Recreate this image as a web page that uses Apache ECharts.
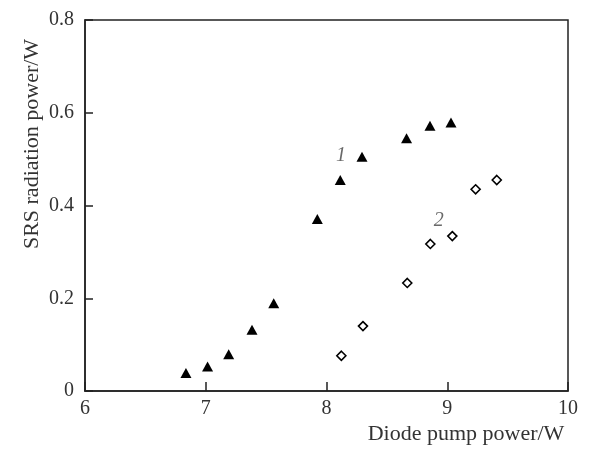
<!DOCTYPE html>
<html><head><meta charset="utf-8">
<script src="https://cdn.jsdelivr.net/npm/echarts@6/dist/echarts.min.js"></script>
<style>html,body{margin:0;padding:0;background:#fff}#c{width:591px;height:450px}</style>
</head><body><div id="c"></div>
<script>
const series1X = [6.836, 7.015, 7.19, 7.383, 7.563, 7.924, 8.114, 8.294, 8.663, 8.857, 9.031];
const series1Y = [0.039, 0.053, 0.079, 0.132, 0.189, 0.371, 0.455, 0.505, 0.545, 0.572, 0.579];
const series2X = [8.123, 8.302, 8.669, 8.86, 9.042, 9.235, 9.41];
const series2Y = [0.076, 0.140, 0.233, 0.317, 0.334, 0.435, 0.455];
const xTicks = [6, 7, 8, 9, 10];
const yTicks = [0, 0.2, 0.4, 0.6, 0.8];
const seriesLabels = [{text: '1', x: 8.12, y: 0.508}, {text: '2', x: 8.93, y: 0.368}];
const xTitle = 'Diode pump power/W';
const yTitle = 'SRS radiation power/W';

const font = '"Liberation Serif", "DejaVu Serif", serif';
const chart = echarts.init(document.getElementById('c'));
const fmtY = v => v === 0 ? '0' : v.toFixed(1);
chart.setOption({
  animation: false,
  grid: {left: 85, right: 23, top: 20, bottom: 59, show: true, borderColor: '#222', borderWidth: 1.5},
  xAxis: {
    type: 'value', min: 6, max: 10, interval: 1,
    axisLine: {show: true, lineStyle: {color: '#222', width: 1.5}},
    axisTick: {show: true, inside: true, length: 9, lineStyle: {color: '#222', width: 1.5}},
    splitLine: {show: false},
    axisLabel: {color: '#333', fontFamily: font, fontSize: 20, margin: 8,
      formatter: v => xTicks.includes(v) ? String(v) : ''}
  },
  yAxis: {
    type: 'value', min: 0, max: 0.8, interval: 0.2,
    axisLine: {show: true, lineStyle: {color: '#222', width: 1.5}},
    axisTick: {show: true, inside: true, length: 8, lineStyle: {color: '#222', width: 1.5}},
    splitLine: {show: false},
    axisLabel: {color: '#333', fontFamily: font, fontSize: 20, margin: 11,
      formatter: v => yTicks.some(t => Math.abs(t - v) < 1e-9) ? fmtY(v) : ''}
  },
  graphic: [
    {type: 'text', x: 466, y: 434, style: {text: xTitle, font: '22px ' + font, fill: '#333', align: 'center', verticalAlign: 'middle'}},
    {type: 'text', x: 32, y: 144, rotation: Math.PI / 2, style: {text: yTitle, font: '22px ' + font, fill: '#333', align: 'center', verticalAlign: 'middle'}}
  ],
  series: [
    {type: 'scatter', symbol: 'triangle', symbolSize: [11, 10],
      itemStyle: {color: '#000', opacity: 1},
      data: series1X.map((x, i) => [x, series1Y[i]])},
    {type: 'scatter', symbol: 'diamond', symbolSize: 9,
      itemStyle: {color: '#fff', borderColor: '#000', borderWidth: 1.6, opacity: 1},
      data: series2X.map((x, i) => [x, series2Y[i]])},
    {type: 'scatter', symbolSize: 0, silent: true,
      data: seriesLabels.map(l => ({value: [l.x, l.y], label: {show: true, position: 'inside', formatter: l.text, fontFamily: font, fontStyle: 'italic', fontSize: 20, color: '#444'}}))}
  ]
});
</script></body></html>
